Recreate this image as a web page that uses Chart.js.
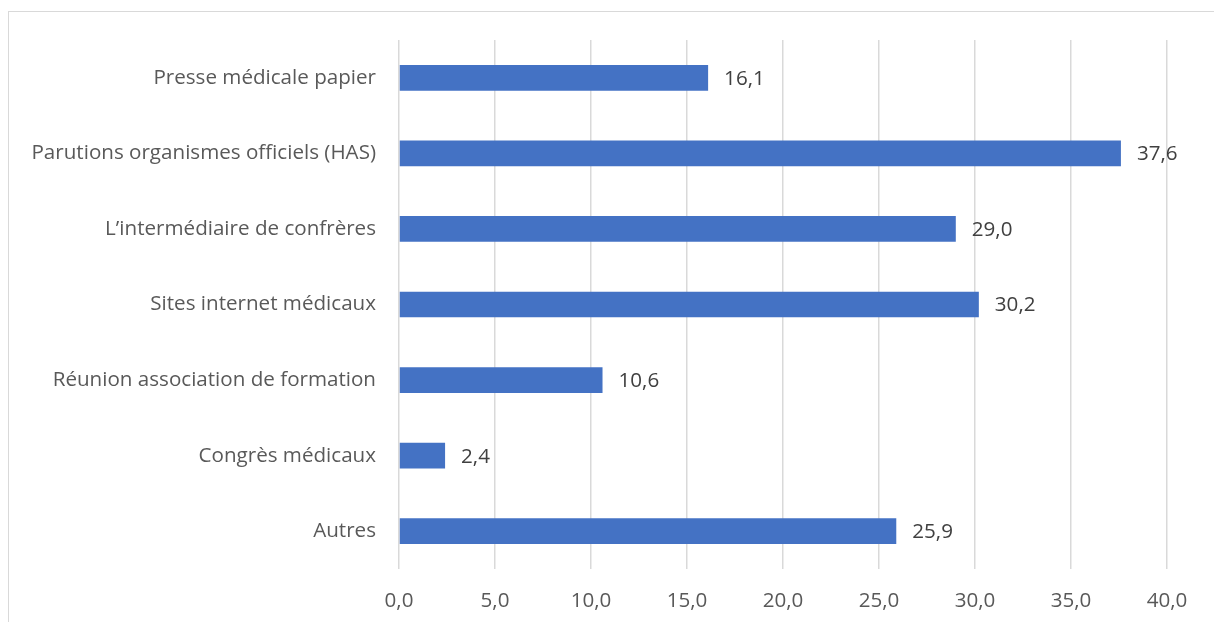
<!DOCTYPE html>
<html>
<head>
<meta charset="utf-8">
<script src="https://cdn.jsdelivr.net/npm/chart.js@4"></script>
<style>
  html, body { margin: 0; padding: 0; background: #fff; overflow: hidden; }
  #wrap { position: relative; width: 1214px; height: 622px; }
  #frame { position: absolute; left: 8px; top: 11px; width: 1400px; height: 800px; border: 1px solid #d9d9d9; box-sizing: border-box; pointer-events: none; }
  canvas { position: absolute; left: 0; top: 0; }
</style>
</head>
<body>
<div id="wrap">
  <div id="frame"></div>
  <canvas id="c" width="1214" height="622"></canvas>
</div>
<script>
const categories = [
  "Presse médicale papier",
  "Parutions organismes officiels (HAS)",
  "L\u2019intermédiaire de confrères",
  "Sites internet médicaux",
  "Réunion association de formation",
  "Congrès médicaux",
  "Autres"
];
const values = [16.1, 37.6, 29.0, 30.2, 10.6, 2.4, 25.9];
const tickMin = 0, tickMax = 40, tickStep = 5;

const fmt = v => v.toFixed(1).replace('.', ',');
const FONT = "'Open Sans', 'DejaVu Sans', sans-serif";
const FS = 20.6;

const valueLabels = {
  id: 'valueLabels',
  afterDatasetsDraw(chart) {
    const ctx = chart.ctx;
    const meta = chart.getDatasetMeta(0);
    ctx.save();
    ctx.font = FS + "px " + FONT;
    ctx.fillStyle = '#404040';
    ctx.textAlign = 'left';
    ctx.textBaseline = 'middle';
    meta.data.forEach((bar, i) => {
      ctx.fillText(fmt(values[i]), bar.x + 16, bar.y + 1);
    });
    ctx.restore();
  }
};

new Chart(document.getElementById('c'), {
  type: 'bar',
  data: {
    labels: categories,
    datasets: [{
      data: values,
      backgroundColor: '#4472C4',
      borderWidth: 0,
      barPercentage: 0.34,
      categoryPercentage: 1.0
    }]
  },
  options: {
    indexAxis: 'y',
    responsive: false,
    animation: false,
    devicePixelRatio: 1,
    layout: { padding: { top: 40, right: 47, left: 0, bottom: 0 } },
    plugins: { legend: { display: false }, tooltip: { enabled: false } },
    scales: {
      x: {
        min: tickMin, max: tickMax,
        ticks: {
          stepSize: tickStep,
          callback: v => fmt(v),
          color: '#595959',
          font: { family: FONT, size: FS },
          padding: 20,
          maxRotation: 0
        },
        grid: { color: '#d9d9d9', lineWidth: 1.5, drawTicks: false },
        border: { display: false },
        afterFit(scale) { scale.height = 622 - 569; }
      },
      y: {
        ticks: {
          color: '#595959',
          font: { family: FONT, size: FS },
          padding: 23
        },
        grid: { display: false, drawTicks: false },
        border: { display: false },
        afterFit(scale) { scale.width = 399; }
      }
    }
  },
  plugins: [valueLabels]
});
</script>
</body>
</html>
